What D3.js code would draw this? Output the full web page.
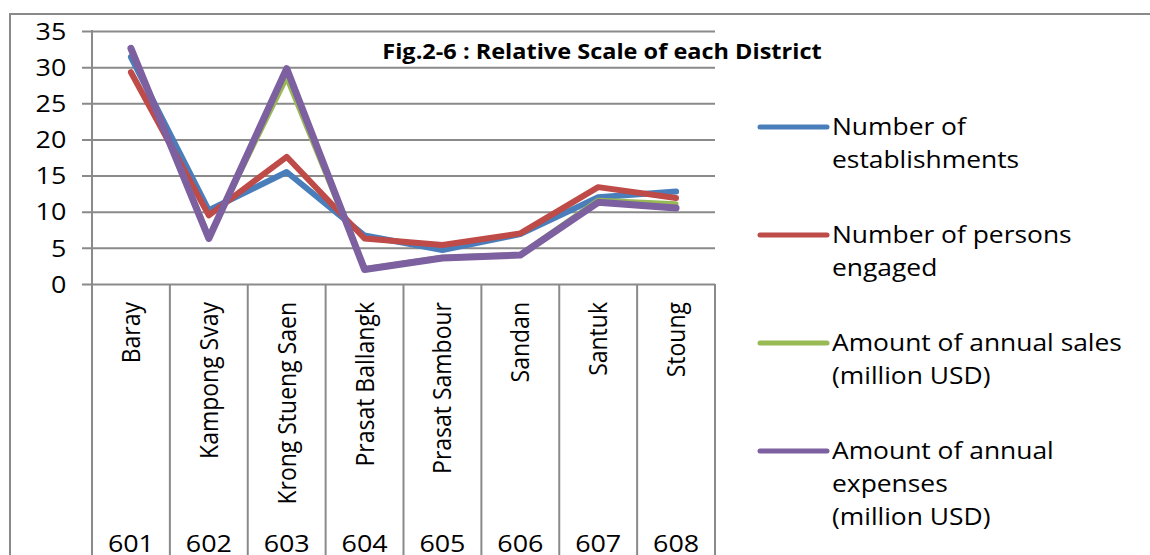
<!DOCTYPE html>
<html>
<head>
<meta charset="utf-8">
<script src="https://cdn.jsdelivr.net/npm/d3@7"></script>
<style>
  body { margin: 0; background: #fff; }
  svg { display: block; font-family: "Open Sans", sans-serif; }
</style>
</head>
<body>
<div id="chart"></div>
<script>
const districts = ["Baray", "Kampong Svay", "Krong Stueng Saen", "Prasat Ballangk",
  "Prasat Sambour", "Sandan", "Santuk", "Stoung"];
const codes = ["601", "602", "603", "604", "605", "606", "607", "608"];

const establishments = [31.4, 10.2, 15.5, 6.7, 4.7, 6.9, 12.0, 12.8];
const personsEngaged = [29.3, 9.5, 17.6, 6.3, 5.4, 7.0, 13.4, 11.9];
const annualSales = [32.4, 6.6, 28.5, 2.1, 3.7, 4.1, 11.6, 11.1];
const annualExpenses = [32.6, 6.3, 29.8, 2.0, 3.6, 4.0, 11.3, 10.5];

const yTicks = [0, 5, 10, 15, 20, 25, 30, 35];

const seriesNames = [
  ["Number of", "establishments"],
  ["Number of persons", "engaged"],
  ["Amount of annual sales", "(million USD)"],
  ["Amount of annual", "expenses", "(million USD)"]
];
const seriesColors = ["#4a7ebb", "#be4b48", "#98b954", "#7d60a0"];
const title = "Fig.2-6 : Relative Scale of each District";

const width = 1150, height = 555;
const margin = { top: 31, left: 92, right: 435, bottom: 271 };
const stretch = 1.12;

const svg = d3.select("#chart").append("svg")
  .attr("width", width)
  .attr("height", height);

// outer chart border
svg.append("path")
  .attr("d", `M10,${height + 5}V14H${width + 5}`)
  .attr("fill", "none")
  .attr("stroke", "#8a8a8a")
  .attr("stroke-width", 2);

const x = d3.scaleBand()
  .domain(districts)
  .range([margin.left, width - margin.right]);

const y = d3.scaleLinear()
  .domain([0, 35])
  .range([height - margin.bottom, margin.top]);

// gridlines + y labels
const yAxis = svg.append("g")
  .attr("transform", `translate(${margin.left - 10},0)`)
  .call(d3.axisLeft(y).tickValues(yTicks)
    .tickSize(-(width - margin.right - margin.left + 10)));
yAxis.select(".domain").remove();
yAxis.selectAll("line").attr("stroke", "#8a8a8a").attr("stroke-width", 2);
yAxis.selectAll("text")
  .attr("font-family", "Open Sans")
  .attr("font-size", 24)
  .attr("fill", "#000")
  .attr("x", -14)
  .attr("dy", "0.34em")
  .attr("transform", `scale(${stretch},1)`);

// y axis line and category separators
const bounds = districts.map(d => x(d)).concat([x.range()[1]]);
svg.append("g").selectAll("line")
  .data(bounds)
  .join("line")
  .attr("x1", d => d).attr("x2", d => d)
  .attr("y1", (d, i) => i === 0 ? y(35) - 1 : y(0))
  .attr("y2", height + 5)
  .attr("stroke", "#8a8a8a")
  .attr("stroke-width", 2);

// category labels (rotated)
svg.append("g").selectAll("text")
  .data(districts)
  .join("text")
  .attr("transform", d => `translate(${x(d) + x.bandwidth() / 2},302) rotate(-90) scale(1,1.08)`)
  .attr("text-anchor", "end")
  .attr("dy", "0.36em")
  .attr("font-size", 23)
  .attr("fill", "#000")
  .text(d => d);

// district codes
svg.append("g").selectAll("text")
  .data(codes)
  .join("text")
  .attr("transform", (d, i) => `translate(${x(districts[i]) + x.bandwidth() / 2},552) scale(${stretch},1)`)
  .attr("text-anchor", "middle")
  .attr("font-size", 24)
  .attr("fill", "#000")
  .text(d => d);

// series lines
const allSeries = [establishments, personsEngaged, annualSales, annualExpenses];
const line = d3.line()
  .x((d, i) => x(districts[i]) + x.bandwidth() / 2)
  .y(d => y(d));

svg.append("g").selectAll("path")
  .data(allSeries)
  .join("path")
  .attr("d", line)
  .attr("fill", "none")
  .attr("stroke", (d, i) => seriesColors[i])
  .attr("stroke-width", (d, i) => i === 3 ? 7 : (i === 2 ? 5 : 6))
  .attr("stroke-linejoin", "round")
  .attr("stroke-linecap", "round");

// title
svg.append("text")
  .attr("transform", `translate(602,59) scale(${stretch},1)`)
  .attr("text-anchor", "middle")
  .attr("font-size", 21)
  .attr("font-weight", "bold")
  .attr("fill", "#000")
  .text(title);

// legend
const legend = svg.append("g");
const entries = legend.selectAll("g")
  .data(seriesNames)
  .join("g")
  .attr("transform", (d, i) => `translate(760,${127 + i * 108})`);

entries.append("line")
  .attr("x1", 0).attr("x2", 67)
  .attr("stroke", (d, i) => seriesColors[i])
  .attr("stroke-width", 5)
  .attr("stroke-linecap", "round");

entries.append("g")
  .attr("transform", `translate(72,8) scale(1.1,1)`)
  .selectAll("text")
  .data(d => d)
  .join("text")
  .attr("y", (d, i) => i * 33)
  .attr("font-size", 24)
  .attr("fill", "#000")
  .text(d => d);
</script>
</body>
</html>
